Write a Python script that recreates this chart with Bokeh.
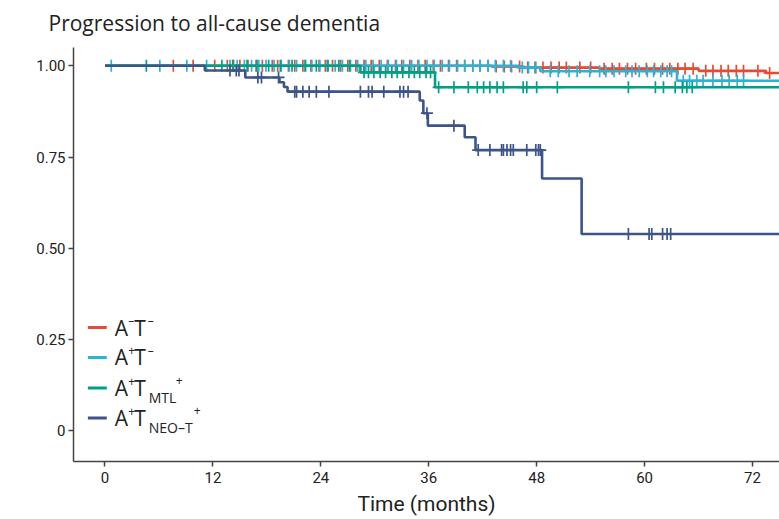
import numpy as np
from bokeh.plotting import figure
from bokeh.models import FixedTicker, Range1d
from bokeh.core.properties import value
from bokeh.embed import file_html
from bokeh.resources import INLINE

# ---------------- data ----------------
title_text = "Progression to all-cause dementia"
groups = ["A-T-", "A+T-", "A+TMTL+", "A+TNEO-T+"]
colors = ["#E64B35", "#2BB3D6", "#00A087", "#3C5488"]

red_t = [0, 43.0, 46.5, 55.0, 66.0, 73.5]
red_s = [1.0, 0.998, 0.995, 0.992, 0.986, 0.980]
red_c = [7.6, 9.8, 12.2, 13.6, 14.3, 15.0, 15.9, 16.8, 17.5, 18.6, 19.2, 20.4, 21.1, 22.0,
         22.9, 23.8, 24.5, 25.3, 26.2, 27.0, 27.9, 28.8, 29.6, 30.5, 31.4, 32.3, 33.0, 33.9,
         34.8, 35.6, 36.5, 37.3, 38.2, 39.1, 40.0, 40.9, 41.7, 42.6, 43.5, 44.4, 45.2, 46.1,
         47.0, 47.9, 48.7, 49.6, 50.5, 51.3, 52.8, 54.0, 55.5, 56.4, 57.2, 58.1, 59.0, 60.2,
         61.1, 62.0, 62.8, 63.7, 64.5, 65.4, 66.8, 67.6, 68.5, 69.3, 70.2, 71.0, 72.6, 73.9]

cyan_t = [0, 46.0, 48.4, 63.6]
cyan_s = [1.0, 0.995, 0.985, 0.959]
cyan_c = [0.7, 6.1, 9.1, 11.3, 13.9, 14.7, 15.5, 16.3, 17.1, 17.9, 18.8, 19.6, 20.5, 21.3,
          22.2, 23.0, 23.9, 24.7, 25.6, 26.4, 27.3, 28.1, 29.0, 29.8, 30.7, 31.5, 32.4, 33.2,
          34.1, 34.9, 35.8, 36.6, 37.5, 38.3, 39.2, 40.0, 40.9, 41.7, 42.6, 43.4, 44.3, 45.1,
          46.4, 47.1, 47.8, 49.5, 50.4, 51.6, 52.5, 53.9, 55.0, 55.7, 56.6, 57.9, 58.6, 59.4,
          60.3, 61.0, 61.8, 62.5, 63.0, 64.3, 65.0, 65.8, 66.5, 67.6, 68.6, 69.4, 70.3, 71.0]

green_t = [0, 28.4, 36.7]
green_s = [1.0, 0.982, 0.941]
green_c = [4.6, 13.0, 14.2, 15.8, 16.9, 18.2, 19.5, 20.8, 22.3, 23.5, 24.8, 26.0, 27.2,
           28.8, 29.3, 29.9, 30.6, 31.2, 31.9, 32.5, 33.1, 33.8, 34.4, 35.0, 35.7, 36.2,
           37.1, 38.8, 40.4, 41.4, 42.1, 42.8, 43.6, 44.3, 46.5, 46.9, 48.0, 50.3, 58.2,
           61.2, 62.1, 63.4, 64.2, 64.7, 65.3]

blue_t = [0, 11.1, 15.6, 19.4, 19.9, 20.3, 35.0, 35.4, 35.9, 40.0, 41.2, 48.6, 53.0]
blue_s = [1.0, 0.987, 0.968, 0.955, 0.942, 0.929, 0.905, 0.870, 0.836, 0.804, 0.769, 0.691, 0.539]
blue_c = [13.9, 14.6, 14.9, 17.0, 17.4, 19.3, 21.1, 21.3, 22.0, 22.7, 23.5, 24.9, 28.4, 29.3,
          29.7, 31.0, 32.8, 33.2, 33.7, 35.8, 38.8, 41.5, 42.8, 44.1, 44.3, 44.7, 45.1, 45.4,
          46.9, 47.9, 48.2, 48.4, 58.2, 60.5, 60.8, 62.0, 62.5, 62.9]

end_time = 76
x_ticks = [0, 12, 24, 36, 48, 60, 72]
y_ticks = [0, 0.25, 0.5, 0.75, 1.0]
y_tick_labels = ["0", "0.25", "0.50", "0.75", "1.00"]

# ---------------- figure ----------------
p = figure(width=779, height=519, output_backend="svg", toolbar_location=None,
           x_range=Range1d(-3.5, 75), y_range=Range1d(-0.084, 1.05),
           min_border_left=73, min_border_right=0, min_border_bottom=58, min_border_top=47)
p.grid.visible = False
p.outline_line_color = None
p.background_fill_color = "white"
p.border_fill_color = "white"

p.title.text = title_text
p.title.text_font = "Open Sans"
p.title.text_font_size = "21px"
p.title.text_font_style = "normal"
p.title.text_color = "#222222"
p.title.align = "left"
p.title.vertical_align = "top"
p.title.offset = -25
p.title.standoff = 17

for ax in (p.xaxis[0], p.yaxis[0]):
    ax.axis_line_color = "#444444"
    ax.axis_line_width = 1.5
    ax.major_tick_line_color = "#444444"
    ax.major_tick_line_width = 1.5
    ax.major_tick_out = 5
    ax.major_tick_in = 0
    ax.minor_tick_line_color = None
    ax.major_label_text_font = "Roboto"
    ax.major_label_text_font_size = "15px"
    ax.major_label_text_color = "#222222"

p.xaxis.ticker = FixedTicker(ticks=x_ticks)
p.xaxis.major_label_standoff = 5
p.xaxis.axis_label = "Time (months)"
p.xaxis.axis_label_text_font = "Roboto"
p.xaxis.axis_label_text_font_size = "21px"
p.xaxis.axis_label_text_font_style = "normal"
p.xaxis.axis_label_text_color = "#222222"
p.xaxis.axis_label_standoff = 6

p.yaxis.ticker = FixedTicker(ticks=y_ticks)
p.yaxis.major_label_overrides = {t: l for t, l in zip(y_ticks, y_tick_labels)}
p.yaxis.major_label_standoff = 3


def surv_at(times, surv, c):
    idx = np.searchsorted(np.array(times), np.array(c), side="right") - 1
    return np.array(surv)[idx]


series = [(red_t, red_s, red_c), (cyan_t, cyan_s, cyan_c),
          (green_t, green_s, green_c), (blue_t, blue_s, blue_c)]
for (t, s, c), col in zip(series, colors):
    xs = list(t) + [end_time]
    ys = list(s) + [s[-1]]
    p.step(xs, ys, mode="after", line_color=col, line_width=2.6)
    p.scatter(c, surv_at(t, s, c), marker="cross", size=12, line_color=col, line_width=1.7)

# ---------------- legend (manual, with super/subscripts) ----------------
row_y = [0.283, 0.201, 0.117, 0.035]
p.segment(x0=[-1.9] * 4, x1=[0.2] * 4, y0=row_y, y1=row_y, line_color=colors, line_width=3)

sup_top = [["–", "–"], ["+", "–"], ["+", "+"], ["+", "+"]]
subs = ["", "", "MTL", "NEO–T"]
sub_w = {"MTL": 27, "NEO–T": 45}
x0 = 1.08
tc = "#222222"
for i in range(4):
    y = row_y[i]
    p.text([x0], [y], text=["A"], text_font=value("Open Sans"), text_font_size="21px",
           text_baseline="middle", text_color=tc)
    p.text([x0], [y], text=[sup_top[i][0]], x_offset=13.5, y_offset=-7,
           text_font=value("Open Sans"), text_font_size="12px", text_baseline="middle",
           text_color=tc)
    p.text([x0], [y], text=["T"], x_offset=19.5, text_font=value("Open Sans"),
           text_font_size="21px", text_baseline="middle", text_color=tc)
    if subs[i]:
        p.text([x0], [y], text=[subs[i]], x_offset=34, y_offset=9, text_font=value("Open Sans"),
               text_font_size="14px", text_baseline="middle", text_color=tc)
        p.text([x0], [y], text=[sup_top[i][1]], x_offset=34 + sub_w[subs[i]], y_offset=-8,
               text_font=value("Open Sans"), text_font_size="12px", text_baseline="middle",
               text_color=tc)
    else:
        p.text([x0], [y], text=[sup_top[i][1]], x_offset=33, y_offset=-7,
               text_font=value("Open Sans"), text_font_size="12px", text_baseline="middle",
               text_color=tc)

open("out.html", "w").write(file_html(p, INLINE))
